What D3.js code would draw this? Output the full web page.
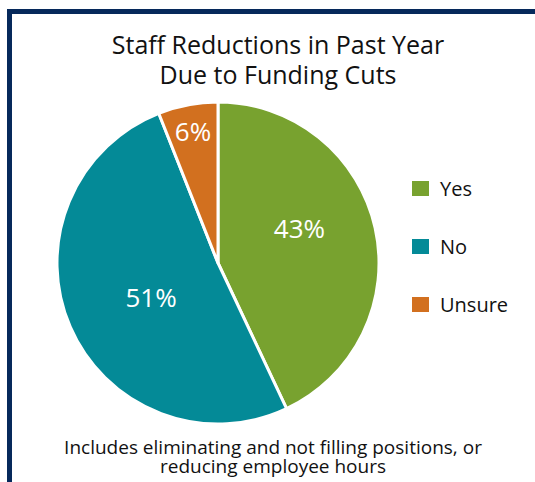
<!DOCTYPE html>
<html>
<head>
<meta charset="utf-8">
<script src="https://cdn.jsdelivr.net/npm/d3@7"></script>
<style>
  body { margin: 0; background: #fff; }
  text { font-family: 'Open Sans', 'Noto Sans', sans-serif; }
</style>
</head>
<body>
<div id="chart"></div>
<script>
const categories = ['Yes', 'No', 'Unsure'];
const shares = [43, 51, 6];
const colors = ['#78a22f', '#048a97', '#d2701f'];
const titleLines = ['Staff Reductions in Past Year', 'Due to Funding Cuts'];
const noteLines = ['Includes eliminating and not filling positions, or', 'reducing employee hours'];

const width = 535,
  height = 482;

const svg = d3.select('#chart')
  .append('svg')
  .attr('width', width)
  .attr('height', height);

// frame: navy rule on top and left only
svg.append('rect')
  .attr('x', 7).attr('y', 9)
  .attr('width', width - 7).attr('height', 5)
  .attr('fill', '#06295b');
svg.append('rect')
  .attr('x', 7).attr('y', 9)
  .attr('width', 5).attr('height', height - 9)
  .attr('fill', '#06295b');

// multi-line text as one element with tspans
const lines = (g, data, x, y, step, size) => {
  g.append('text')
    .attr('text-anchor', 'middle')
    .attr('font-size', size)
    .attr('fill', '#111')
    .selectAll('tspan')
    .data(data)
    .join('tspan')
    .attr('x', x)
    .attr('y', (d, i) => y + i * step)
    .text((d) => d);
};

lines(svg.append('g').attr('class', 'title'), titleLines, 278, 54, 30, 25);

const radius = 161;
const pieG = svg.append('g')
  .attr('transform', 'translate(218,263)');

const pie = d3.pie()
  .sort(null)
  .value((d) => d);

const arc = d3.arc()
  .innerRadius(0)
  .outerRadius(radius);

const arcs = pie(shares);

pieG.selectAll('path')
  .data(arcs)
  .join('path')
  .attr('d', arc)
  .attr('fill', (d, i) => colors[i])
  .attr('stroke', '#fff')
  .attr('stroke-width', 3)
  .attr('stroke-linejoin', 'round');

// small slices get their label pushed toward the rim,
// big ones sit a little back from the middle angle and up-right
const labelPos = (d) => {
  const small = d.data < 10;
  const r = (small ? 0.83 : 0.51) * radius;
  const shift = small ? 0 : -0.12;
  const a = (d.startAngle + d.endAngle) / 2 + shift;
  const nudge = small ? [0, 0] : [4, -7];
  return [Math.sin(a) * r + nudge[0], -Math.cos(a) * r + nudge[1]];
};

pieG.selectAll('text')
  .data(arcs)
  .join('text')
  .attr('transform', (d) => `translate(${labelPos(d)})`)
  .attr('text-anchor', 'middle')
  .attr('dy', '0.36em')
  .attr('font-size', 26)
  .attr('fill', '#fff')
  .text((d) => `${d.data}%`);

// legend
const legend = svg.append('g')
  .attr('transform', 'translate(412,181)');

const rows = legend.selectAll('g')
  .data(categories)
  .join('g')
  .attr('transform', (d, i) => `translate(0,${i * 58})`);

rows.append('rect')
  .attr('width', 17)
  .attr('height', 15)
  .attr('fill', (d, i) => colors[i]);

rows.append('text')
  .attr('x', 28)
  .attr('y', 15)
  .attr('font-size', 20)
  .attr('fill', '#111')
  .text((d) => d);

lines(svg.append('g').attr('class', 'note'), noteLines, 273, 454, 19, 19);
</script>
</body>
</html>
